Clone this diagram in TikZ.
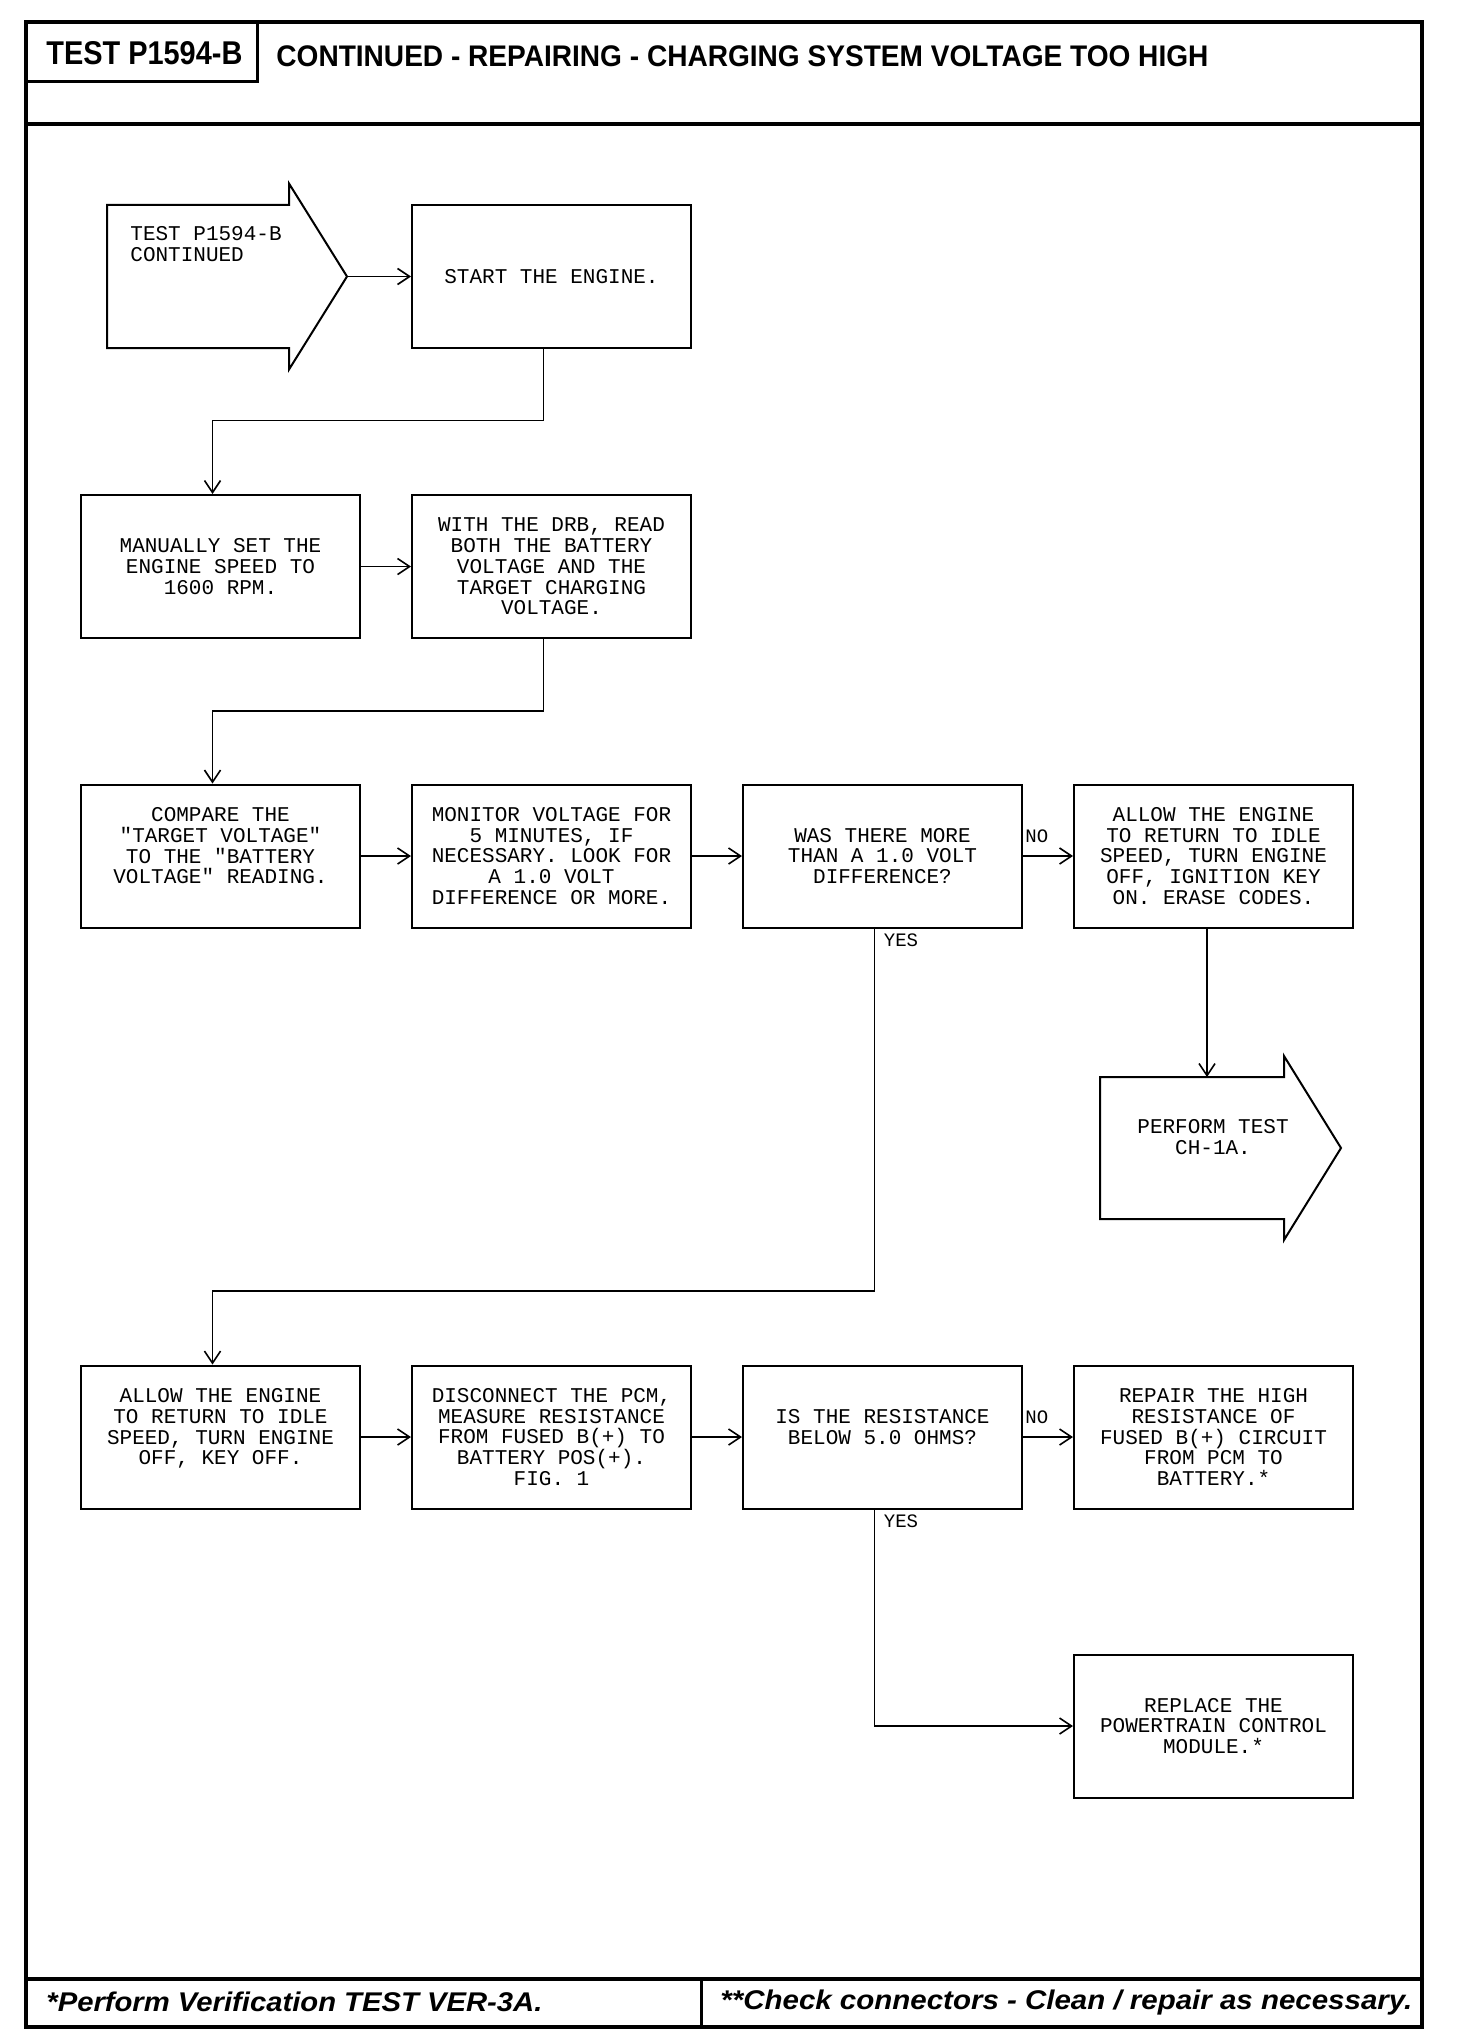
\documentclass[tikz,border=0pt]{standalone}
\usepackage{fontspec}
\setmainfont{Liberation Sans}
\setmonofont{Liberation Mono}
\usepackage{graphicx}
\usetikzlibrary{arrows.meta}
\newcommand\steptext{\ttfamily\fontsize{10.5}{10.4}\selectfont}
\begin{document}
\begin{tikzpicture}[x=0.5pt,y=-0.5pt,line cap=round,
  >={Straight Barb[length=6pt,width=8pt]},
  stepbox/.style={draw,line width=1pt,minimum width=139.5pt,minimum height=71.5pt,
    inner sep=0pt,align=center,font=\steptext},
  link/.style={line width=0.8pt,->},
  answer/.style={font=\ttfamily\fontsize{9.5}{10}\selectfont,inner sep=1pt}]
  \useasboundingbox (0,0) rectangle (1456,2044);
  % frame, header and footer
  \draw[line width=2pt] (26,22) rectangle (1422,2027);
  \draw[line width=2pt] (26,124) -- (1422,124);
  \draw[line width=1.5pt] (26,82) -- (257,82) -- (257,22);
  \draw[line width=2pt] (26,1979) -- (1422,1979);
  \draw[line width=1.5pt] (701,1979) -- (701,2027);
  \node[anchor=west,inner sep=0pt] (testid) at (46,53)
    {\resizebox{98pt}{11.5pt}{\bfseries TEST P1594-B}};
  \node[anchor=west,inner sep=0pt] (title) at (276,56)
    {\resizebox{466pt}{10.4pt}{\bfseries CONTINUED - REPAIRING - CHARGING SYSTEM VOLTAGE TOO HIGH}};
  \node[anchor=west,inner sep=0pt] (note1) at (46,2002)
    {\resizebox{248pt}{9.8pt}{\bfseries\itshape *Perform Verification TEST VER-3A.}};
  \node[anchor=west,inner sep=0pt] (note2) at (720,2002)
    {\resizebox{346pt}{9.8pt}{\bfseries\itshape **Check connectors - Clean / repair as necessary.}};
  % entry arrow
  \draw[line width=1pt] (107,205) -- (289,205) -- (289,183.5) -- (347,276.5)
    -- (289,369.5) -- (289,348) -- (107,348) -- cycle;
  \coordinate (entry) at (347,276.5);
  \node[anchor=north west,align=left,inner sep=0pt,font=\steptext] (entrytxt) at (130,226)
    {TEST P1594-B\\CONTINUED};
  % steps
  \node[stepbox] (start) at (551.5,276.5) {START THE ENGINE.};
  \node[stepbox] (speed) at (220.5,566.5) {MANUALLY SET THE\\ENGINE SPEED TO\\1600 RPM.};
  \node[stepbox] (drb) at (551.5,566.5)
    {WITH THE DRB, READ\\BOTH THE BATTERY\\VOLTAGE AND THE\\TARGET CHARGING\\VOLTAGE.};
  \node[stepbox] (compare) at (220.5,856)
    {COMPARE THE\\"TARGET VOLTAGE"\\TO THE "BATTERY\\VOLTAGE" READING.\\};
  \node[stepbox] (monitor) at (551.5,856)
    {MONITOR VOLTAGE FOR\\5 MINUTES, IF\\NECESSARY. LOOK FOR\\A 1.0 VOLT\\DIFFERENCE OR MORE.};
  \node[stepbox] (diff) at (882.5,856) {WAS THERE MORE\\THAN A 1.0 VOLT\\DIFFERENCE?};
  \node[stepbox] (idleon) at (1213.5,856)
    {ALLOW THE ENGINE\\TO RETURN TO IDLE\\SPEED, TURN ENGINE\\OFF, IGNITION KEY\\ON. ERASE CODES.};
  \node[stepbox] (idleoff) at (220.5,1437)
    {ALLOW THE ENGINE\\TO RETURN TO IDLE\\SPEED, TURN ENGINE\\OFF, KEY OFF.\\};
  \node[stepbox] (measure) at (551.5,1437)
    {DISCONNECT THE PCM,\\MEASURE RESISTANCE\\FROM FUSED B(+) TO\\BATTERY POS(+).\\FIG. 1};
  \node[stepbox] (res) at (882.5,1437) {IS THE RESISTANCE\\BELOW 5.0 OHMS?\\};
  \node[stepbox] (repair) at (1213.5,1437)
    {REPAIR THE HIGH\\RESISTANCE OF\\FUSED B(+) CIRCUIT\\FROM PCM TO\\BATTERY.*};
  \node[stepbox] (replace) at (1213.5,1726) {REPLACE THE\\POWERTRAIN CONTROL\\MODULE.*};
  % exit arrow
  \draw[line width=1pt] (1100,1077) -- (1284,1077) -- (1284,1056) -- (1341,1148)
    -- (1284,1240) -- (1284,1219) -- (1100,1219) -- cycle;
  \coordinate (ch1a) at (1207,1077);
  \node[align=center,inner sep=0pt,font=\steptext] (ch1atxt) at (1213,1137)
    {PERFORM TEST\\CH-1A.};
  % connectors
  \draw[link] (entry) -- (start.west);
  \draw[link] ([xshift=-4pt]start.south) -- ++(0,71.5) -| ([xshift=-4pt]speed.north);
  \draw[link] (speed) -- (drb);
  \draw[link] ([xshift=-4pt]drb.south) -- ++(0,72) -| ([xshift=-4pt]compare.north);
  \draw[link] (compare) -- (monitor);
  \draw[link] (monitor) -- (diff);
  \draw[link] (diff) -- (idleon);
  \draw[link] (idleon.south -| ch1a) -- (ch1a);
  \draw[link] ([xshift=-4pt]diff.south) -- ++(0,362.5) -| ([xshift=-4pt]idleoff.north);
  \draw[link] (idleoff) -- (measure);
  \draw[link] (measure) -- (res);
  \draw[link] (res) -- (repair);
  \draw[link] ([xshift=-4pt]res.south) |- (replace.west);
  % answers
  \node[answer,anchor=west] (no1) at ([yshift=10pt]diff.east) {NO};
  \node[answer,anchor=west] (yes1) at ([xshift=-0.5pt,yshift=-6pt]diff.south) {YES};
  \node[answer,anchor=west] (no2) at ([yshift=10pt]res.east) {NO};
  \node[answer,anchor=west] (yes2) at ([xshift=-0.5pt,yshift=-6pt]res.south) {YES};
\end{tikzpicture}
\end{document}
